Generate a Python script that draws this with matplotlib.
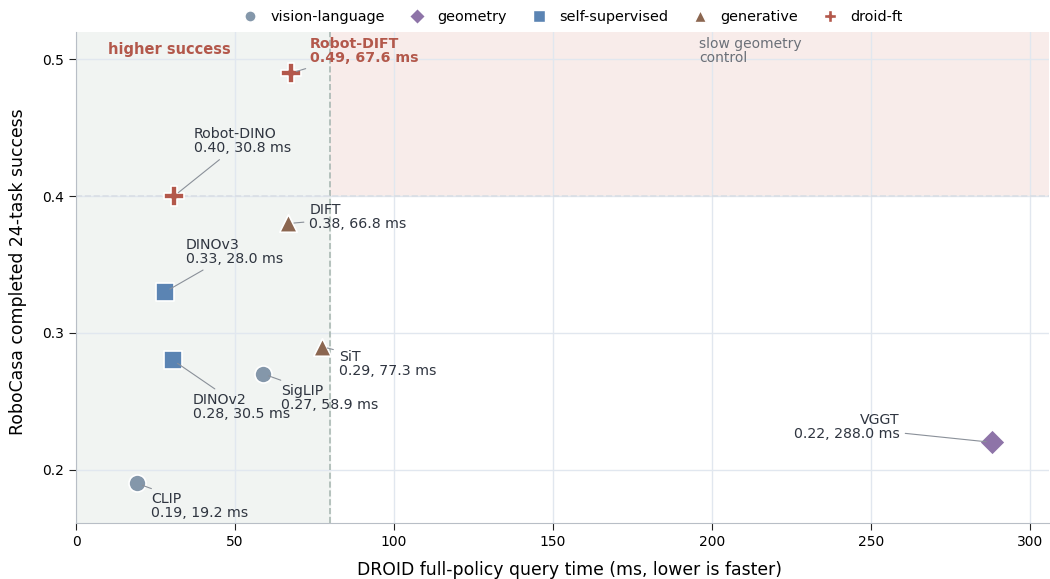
import matplotlib
matplotlib.use("Agg")
import matplotlib.pyplot as plt
from matplotlib.lines import Line2D

plt.rcParams["font.family"] = "DejaVu Sans"

# encoder results: query time (ms) vs. 24-task success
names = ["CLIP", "SigLIP", "VGGT", "DINOv3", "DINOv2", "DIFT", "SiT", "Robot-DINO", "Robot-DIFT"]
query_ms = [19.2, 58.9, 288.0, 28.0, 30.5, 66.8, 77.3, 30.8, 67.6]
success = [0.19, 0.27, 0.22, 0.33, 0.28, 0.38, 0.29, 0.40, 0.49]
family = ["vision-language", "vision-language", "geometry", "self-supervised", "self-supervised",
          "generative", "generative", "droid-ft", "droid-ft"]

families = ["vision-language", "geometry", "self-supervised", "generative", "droid-ft"]
fam_color = {"vision-language": "#8497aa", "geometry": "#8e74a8", "self-supervised": "#5b84b3",
             "generative": "#8b6650", "droid-ft": "#b3584b"}
fam_marker = {"vision-language": "o", "geometry": "D", "self-supervised": "s",
              "generative": "^", "droid-ft": "P"}
fam_size = {"vision-language": 150, "geometry": 170, "self-supervised": 170,
            "generative": 160, "droid-ft": 200}

# label offsets in pixels (dx, dy) and horizontal alignment
label_off = {"CLIP": (14, -23, "left"), "SigLIP": (18, -24, "left"), "VGGT": (-92, 15, "right"),
             "DINOv3": (21, 40, "left"), "DINOv2": (20, -47, "left"), "DIFT": (21, 6, "left"),
             "SiT": (17, -17, "left"), "Robot-DINO": (20, 55, "left"), "Robot-DIFT": (19, 22, "left")}

fast_cut = 80
success_cut = 0.40

fig = plt.figure(figsize=(10.5, 5.79), dpi=100)
ax = fig.add_axes([0.0724, 0.0967, 0.9266, 0.848])
ax.set_xlim(0, 306)
ax.set_ylim(0.161, 0.520)

ax.axvspan(0, fast_cut, color="#f1f4f2", zorder=0)
ax.fill_between([fast_cut, 306], success_cut, 0.520, color="#f8ecea", zorder=0, lw=0)
ax.axvline(fast_cut, color="#a9b8b3", ls="--", lw=1.2, zorder=1)
ax.axhline(success_cut, color="#d9dee5", ls="--", lw=1.2, zorder=1)

ax.grid(True, color="#e1e7ef", lw=1.0, zorder=0.5)
ax.set_axisbelow(True)

for n, x, y, f in zip(names, query_ms, success, family):
    ax.scatter(x, y, s=fam_size[f], marker=fam_marker[f], color=fam_color[f],
               edgecolor="white", linewidth=1.2, zorder=4)
    dx, dy, ha = label_off[n]
    bold = n == "Robot-DIFT"
    ax.annotate(f"{n}\n{y:.2f}, {x:.1f} ms", (x, y), xytext=(dx, dy), textcoords="offset pixels",
                ha=ha, va="center", multialignment=ha, fontsize=10.2,
                linespacing=1.0, fontweight="bold" if bold else "normal",
                color="#b3584b" if bold else "#2f3540", zorder=5,
                arrowprops=dict(arrowstyle="-", color="#8a9099", lw=0.8, shrinkA=2, shrinkB=4))

ax.text(10, 0.513, "higher success", fontsize=10.5, fontweight="bold", color="#b3584b", va="top")
ax.text(196, 0.516, "slow geometry\ncontrol", fontsize=10, color="#6b7078", va="top", linespacing=1.0)

ax.set_xticks([0, 50, 100, 150, 200, 250, 300])
ax.set_yticks([0.2, 0.3, 0.4, 0.5])
ax.set_yticklabels(["0.2", "0.3", "0.4", "0.5"])
ax.tick_params(labelsize=10, length=5, color="#222222")
for s in ["top", "right"]:
    ax.spines[s].set_visible(False)
for s in ["left", "bottom"]:
    ax.spines[s].set_color("#b8bec6")
ax.set_xlabel("DROID full-policy query time (ms, lower is faster)", fontsize=12.4)
ax.set_ylabel("RoboCasa completed 24-task success", fontsize=12.4)
ax.xaxis.set_label_coords(0.507, -0.077)
ax.yaxis.set_label_coords(-0.05, 0.511)

handles = [Line2D([], [], ls="", marker=fam_marker[f], color=fam_color[f],
                  markersize=8 if f != "droid-ft" else 9, markeredgecolor="white")
           for f in families]
fig.legend(handles, families, loc="center", bbox_to_anchor=(0.542, 0.97), ncol=5,
           frameon=False, fontsize=10.4, handletextpad=0.4, columnspacing=1.22)

fig.savefig("out.png", dpi=100)
